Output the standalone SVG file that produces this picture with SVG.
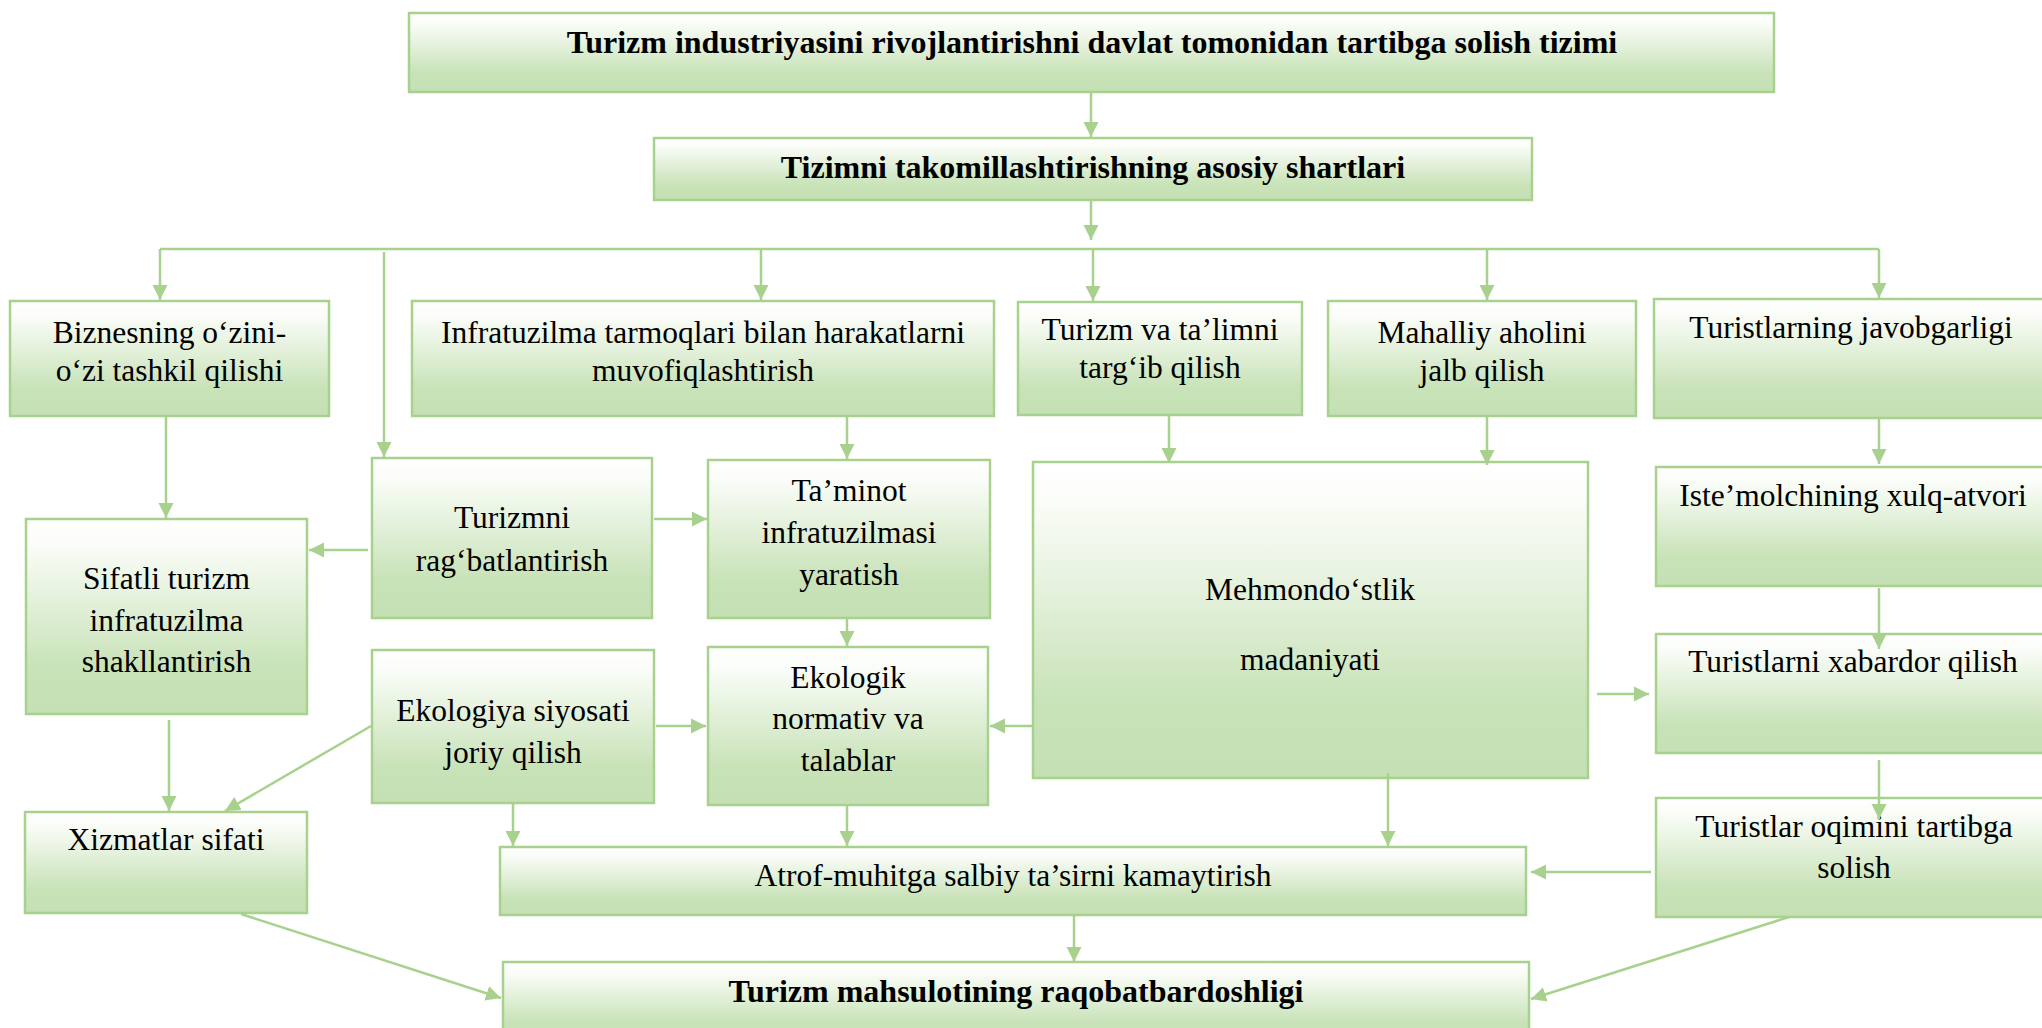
<svg xmlns="http://www.w3.org/2000/svg" width="2042" height="1028" viewBox="0 0 2042 1028">
<defs>
<linearGradient id="g" x1="0" y1="0" x2="0" y2="1">
<stop offset="0" stop-color="#FFFFFF"/>
<stop offset="0.12" stop-color="#FBFDF9"/>
<stop offset="0.75" stop-color="#C9E3B9"/>
<stop offset="1" stop-color="#C5E0B4"/>
</linearGradient>
<marker id="ah" markerUnits="userSpaceOnUse" markerWidth="16" markerHeight="16" refX="15" refY="8" orient="auto">
<path d="M0,0.5 L15,8 L0,15.5 z" fill="#A9D18E"/>
</marker>
</defs>
<style>
.b{fill:url(#g);stroke:#A9D18E;stroke-width:2.5}
.c line{stroke:#A9D18E;stroke-width:2.5;fill:none}
.c .a{marker-end:url(#ah)}
text{font-family:'Liberation Serif','Times New Roman','DejaVu Serif',serif;font-size:31.5px;fill:#000;text-anchor:middle}
.bo{font-weight:bold;font-size:32px}
</style>
<rect width="2042" height="1028" fill="#FFFFFF"/>
<g font-family="Liberation Serif, Times New Roman, serif">
<g id="n-top"><rect class="b" x="409" y="13" width="1365" height="79"/><text class="bo" x="1092" y="53">Turizm industriyasini rivojlantirishni davlat tomonidan tartibga solish tizimi</text></g>
<g id="n-shart"><rect class="b" x="654" y="138" width="878" height="62"/><text class="bo" x="1093" y="178">Tizimni takomillashtirishning asosiy shartlari</text></g>
<g id="n-biznes"><rect class="b" x="10" y="301" width="319" height="115"/><text x="169.5" y="343">Biznesning o‘zini-</text><text x="169.5" y="381">o‘zi tashkil qilishi</text></g>
<g id="n-infra"><rect class="b" x="412" y="301" width="582" height="115"/><text x="703" y="343">Infratuzilma tarmoqlari bilan harakatlarni</text><text x="703" y="381">muvofiqlashtirish</text></g>
<g id="n-talim"><rect class="b" x="1018" y="302" width="284" height="113"/><text x="1160" y="340">Turizm va ta’limni</text><text x="1160" y="378">targ‘ib qilish</text></g>
<g id="n-mahalliy"><rect class="b" x="1328" y="301" width="308" height="115"/><text x="1482" y="343">Mahalliy aholini</text><text x="1482" y="381">jalb qilish</text></g>
<g id="n-javob"><rect class="b" x="1654" y="299" width="400" height="119"/><text x="1851" y="338">Turistlarning javobgarligi</text></g>
<g id="n-sifatli"><rect class="b" x="26" y="519" width="281" height="195"/><text x="166.5" y="589">Sifatli turizm</text><text x="166.5" y="631">infratuzilma</text><text x="166.5" y="672">shakllantirish</text></g>
<g id="n-rag"><rect class="b" x="372" y="458" width="280" height="160"/><text x="512" y="528">Turizmni</text><text x="512" y="571">rag‘batlantirish</text></g>
<g id="n-taminot"><rect class="b" x="708" y="460" width="282" height="158"/><text x="849" y="501">Ta’minot</text><text x="849" y="543">infratuzilmasi</text><text x="849" y="585">yaratish</text></g>
<g id="n-ekologik"><rect class="b" x="708" y="647" width="280" height="158"/><text x="848" y="688">Ekologik</text><text x="848" y="729">normativ va</text><text x="848" y="771">talablar</text></g>
<g id="n-ekosiyosat"><rect class="b" x="372" y="650" width="282" height="153"/><text x="513" y="721">Ekologiya siyosati</text><text x="513" y="763">joriy qilish</text></g>
<g id="n-xizmat"><rect class="b" x="25" y="812" width="282" height="101"/><text x="166" y="850">Xizmatlar sifati</text></g>
<g id="n-atrof"><rect class="b" x="500" y="847" width="1026" height="68"/><text x="1013" y="886">Atrof-muhitga salbiy ta’sirni kamaytirish</text></g>
<g id="n-final"><rect class="b" x="503" y="962" width="1026" height="80"/><text class="bo" x="1016" y="1002">Turizm mahsulotining raqobatbardoshligi</text></g>
<g id="n-mehmon"><rect class="b" x="1033" y="462" width="555" height="316"/><text x="1310" y="600">Mehmondo‘stlik</text><text x="1310" y="670">madaniyati</text></g>
<g id="n-istemol"><rect class="b" x="1656" y="467" width="400" height="119"/><text x="1853" y="506">Iste’molchining xulq-atvori</text></g>
<g id="n-xabardor"><rect class="b" x="1656" y="634" width="400" height="119"/><text x="1853" y="672">Turistlarni xabardor qilish</text></g>
<g id="n-oqim"><rect class="b" x="1656" y="798" width="400" height="119"/><text x="1854" y="837">Turistlar oqimini tartibga</text><text x="1854" y="878">solish</text></g>
</g>
<g class="c" id="connectors">
<line class="a" x1="1091" y1="92" x2="1091" y2="137"/>
<line class="a" x1="1091" y1="200" x2="1091" y2="240"/>
<line x1="160" y1="249" x2="1879" y2="249"/>
<line class="a" x1="160" y1="249" x2="160" y2="300"/>
<line class="a" x1="384" y1="252" x2="384" y2="457"/>
<line class="a" x1="761" y1="249" x2="761" y2="300"/>
<line class="a" x1="1093" y1="249" x2="1093" y2="301"/>
<line class="a" x1="1487" y1="249" x2="1487" y2="300"/>
<line class="a" x1="1879" y1="249" x2="1879" y2="298"/>
<line class="a" x1="166" y1="417" x2="166" y2="518"/>
<line class="a" x1="368" y1="550" x2="309" y2="550"/>
<line class="a" x1="654" y1="519" x2="707" y2="519"/>
<line class="a" x1="847" y1="417" x2="847" y2="459"/>
<line class="a" x1="847" y1="619" x2="847" y2="646"/>
<line class="a" x1="656" y1="726" x2="706" y2="726"/>
<line class="a" x1="1033" y1="726" x2="990" y2="726"/>
<line class="a" x1="371" y1="726" x2="225" y2="811"/>
<line class="a" x1="169" y1="720" x2="169" y2="811"/>
<line class="a" x1="513" y1="804" x2="513" y2="846"/>
<line class="a" x1="847" y1="806" x2="847" y2="846"/>
<line class="a" x1="241" y1="914" x2="501" y2="998"/>
<line class="a" x1="1074" y1="916" x2="1074" y2="962"/>
<line class="a" x1="1169" y1="416" x2="1169" y2="463"/>
<line class="a" x1="1487" y1="417" x2="1487" y2="465"/>
<line class="a" x1="1879" y1="419" x2="1879" y2="464"/>
<line class="a" x1="1879" y1="588" x2="1879" y2="649"/>
<line class="a" x1="1597" y1="694" x2="1649" y2="694"/>
<line class="a" x1="1388" y1="773" x2="1388" y2="846"/>
<line class="a" x1="1879" y1="760" x2="1879" y2="819"/>
<line class="a" x1="1651" y1="872" x2="1531" y2="872"/>
<line class="a" x1="1789" y1="917" x2="1531" y2="999"/>
</g>
</svg>
